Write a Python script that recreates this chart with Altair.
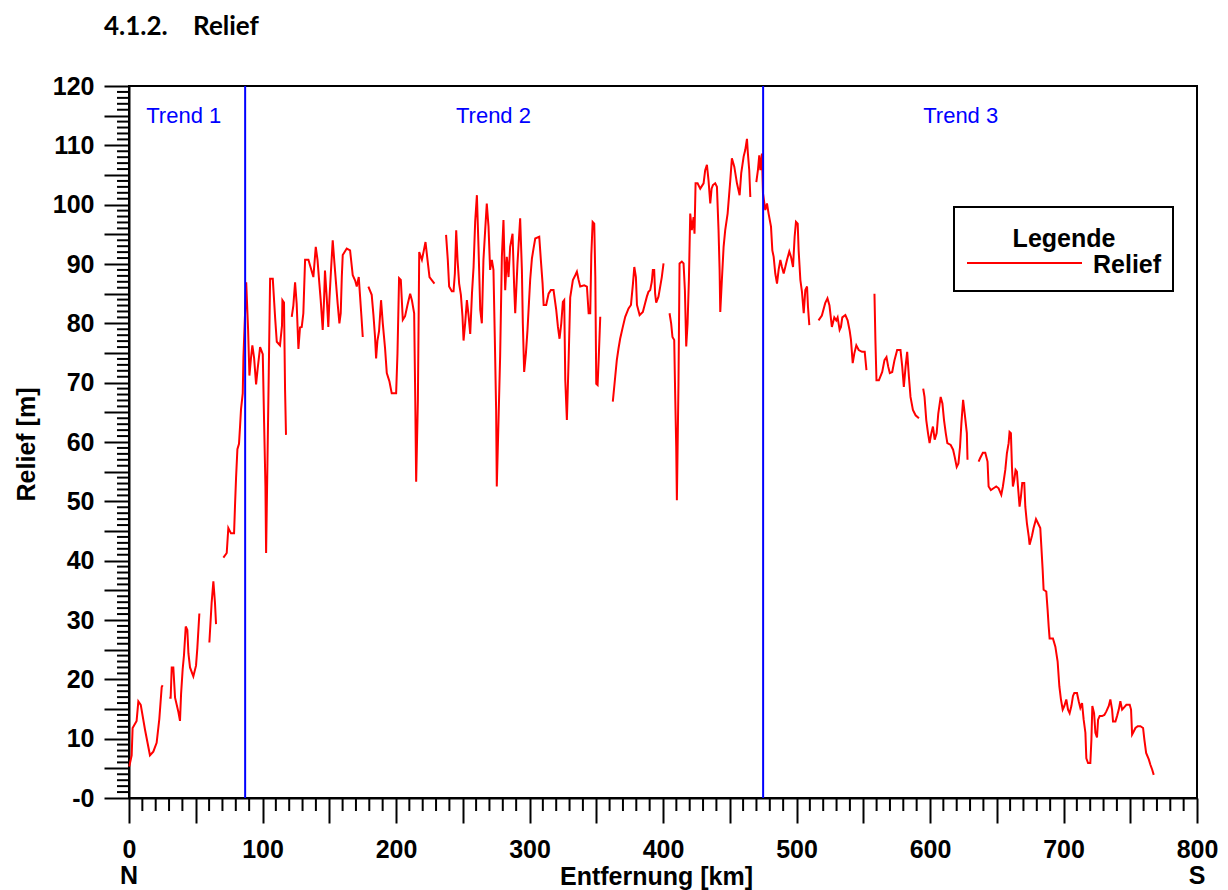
import altair as alt
import pandas as pd

# ---- data (None = gap in the profile) ----
km = [
    0.2, 2.0, 2.7, 5.7, 7.0, 8.8, 12.0, 15.7, 18.2, 20.7, 22.7, 24.5, 25.2, None,
    30.2, 31.2, 32.0, 33.2, 34.5, 37.0, 38.2, 39.0, 40.2, 41.2, 42.5, 43.7, 44.5, 45.7, 48.2, 50.2, 51.2, 52.7, None,
    60.2, 61.9, 63.2, 64.4, 65.2, None,
    70.7, 73.2, 74.4, 76.4, 78.7, 79.4, 80.2, 81.2, 82.4, 83.2, 83.9, 85.2, 85.7, 87.8, 89.2, 90.2, 91.4, 92.4, 93.7,
    95.2, 96.4, 98.2, 100.2, 101.2, 102.2, 102.7, 103.7, 104.7, 105.7, 107.7, 109.5, 110.7, 113.1, 114.6, 114.9,
    116.1, 116.9, 117.6, None,
    121.9, 123.1, 124.4, 125.6, 126.9, 128.1, 129.4, 130.6, 131.9, 134.4, 138.1, 139.9, 141.2, 142.6, 143.6, 145.1,
    146.1, 146.8, 148.1, 149.3, 150.1, 151.3, 152.6, 153.9, 155.1, 156.3, 157.6, 158.6, 159.4, 160.1, 163.1, 165.6,
    167.6, 169.4, 170.6, 172.1, 173.1, 174.1, 175.1, None,
    179.3, 181.8, 183.1, 184.3, 185.1, 186.1, 187.3, 188.8, 190.1, 191.8, 193.1, 195.1, 196.8, 200.1, 201.1, 202.3,
    203.6, 205.1, 206.8, 208.6, 210.6, 211.9, 213.6, 214.4, 215.1, 216.4, 217.4, 219.4, 220.6, 222.1, 223.6, 225.1,
    226.8, 228.8, None,
    237.5, 238.8, 239.8, 241.8, 243.1, 244.1, 245.1, 246.1, 247.3, 248.6, 249.8, 250.6, 251.8, 253.1, 254.4, 255.6,
    256.9, 258.1, 259.3, 260.6, 261.8, 263.1, 264.3, 265.5, 266.8, 268.0, 269.3, 270.5, 271.8, 273.0, 274.0, 275.0,
    275.5, 276.8, 278.0, 279.3, 280.5, 281.8, 283.0, 284.3, 285.5, 287.3, 288.5, 289.3, 291.0, 293.0, 294.3, 295.0,
    296.0, 297.3, 298.5, 300.5, 301.8, 303.0, 304.3, 307.3, 308.5, 309.8, 310.6, 312.5, 314.3, 316.0, 318.0, 320.0,
    321.3, 322.5, 323.8, 325.0, 326.0, 326.8, 328.0, 329.3, 330.5, 332.5, 334.3, 335.5, 336.8, 338.0, 341.0, 343.0,
    344.3, 345.5, 346.3, 347.3, 348.5, 349.3, 350.0, 351.0, 351.8, 353.0, None,
    362.4, 364.2, 365.4, 366.7, 367.9, 369.9, 371.7, 374.2, 376.0, 377.5, 378.5, 379.7, 380.5, 382.5, 384.9, 386.6,
    387.9, 389.1, 390.4, 391.6, 392.4, 393.4, 394.1, 394.9, 396.6, 397.9, 399.1, 400.4, None,
    404.9, 406.1, 407.1, 408.4, 409.1, 409.9, 410.4, 411.6, 412.4, 414.1, 415.4, 416.4, 417.4, 418.4, 419.4, 420.4,
    421.6, 422.9, 423.6, 424.4, 425.9, 427.9, 430.4, 431.6, 432.9, 434.1, 435.4, 436.4, 437.4, 439.1, 440.4, 441.6,
    442.4, 442.9, 444.1, 445.4, 446.6, 448.4, 450.4, 451.6, 453.4, 455.4, 457.4, 458.6, 460.4, 461.6, 462.9, 463.6,
    464.6, 465.4, None,
    469.9, 471.1, 472.1, 472.9, 474.1, 474.9, 476.6, 477.9, 479.1, 480.9, 481.9, 482.9, 484.1, 485.4, 486.6, 487.9,
    489.1, 490.4, 491.6, 492.9, 494.6, 495.9, 497.4, 498.6, 499.6, 500.9, 501.6, 502.9, 504.1, 505.4, 506.6, 507.9,
    508.6, 509.6, None,
    516.5, 519.0, 521.5, 523.2, 524.7, 526.5, 528.3, 529.8, 530.8, 532.3, 533.3, 534.3, 536.6, 538.3, 539.8, 540.8,
    542.1, 543.3, 544.8, 546.6, 549.1, 551.1, 552.4, None,
    558.4, 559.1, 559.9, 561.7, 564.2, 565.9, 567.4, 568.7, 569.9, 571.7, 573.4, 575.4, 577.9, 579.2, 580.4, 581.7,
    582.9, 584.2, 585.4, 587.2, 589.2, 591.7, None,
    594.9, 595.9, 597.2, 598.5, 599.7, 601.0, 602.2, 603.5, 605.0, 606.2, 608.0, 609.3, 610.5, 611.8, 613.0, 615.5,
    617.3, 618.5, 620.0, 621.3, 622.5, 623.5, 624.8, 626.0, 627.6, 628.1, None,
    636.4, 637.6, 639.6, 641.4, 643.1, 643.9, 645.6, 647.6, 649.6, 651.4, 653.4, 654.6, 656.4, 657.6, 658.9, 659.6,
    660.6, 661.4, 662.1, 663.1, 664.1, 665.1, 665.9, 667.1, 668.1, 669.1, 670.6, 671.4, 672.6, 673.9, 674.6, 676.4,
    677.6, 679.4, 680.9, 682.6, 683.4, 684.4, 685.1, 687.1, 688.1, 688.9, 689.6, 692.1, 693.9, 695.6, 696.9, 698.1,
    699.4, 700.6, 702.1, 703.4, 704.6, 705.9, 707.1, 708.1, 710.1, 711.4, 712.6, 713.9, 715.1, 716.4, 717.1, 718.4,
    720.1, 720.9, 721.6, 722.9, 723.9, 725.1, 725.9, 727.1, 728.9, 730.6, 732.1, 733.9, 735.1, 736.4, 737.1, 738.9,
    740.1, 741.4, 742.6, 743.9, 745.1, 747.1, 749.6, 750.6, 751.4, 752.6, 753.9, 755.6, 757.6, 759.6, 760.6, 761.9,
    763.9, 765.1, 766.4, 767.6,
]
relief = [
    5.3, 7.2, 11.8, 13.0, 16.3, 15.7, 11.5, 7.2, 7.8, 9.3, 13.3, 18.7, 19.0, None,
    16.9, 16.9, 22.0, 22.0, 16.9, 14.5, 13.0, 17.5, 21.7, 24.1, 28.9, 28.3, 24.4, 22.0, 20.5, 22.3, 25.3, 31.1, None,
    26.2, 32.9, 36.5, 32.9, 29.3, None,
    40.5, 41.3, 45.5, 44.6, 44.6, 49.2, 54.0, 58.8, 59.7, 62.7, 65.5, 68.2, 74.2, 86.9, 79.0, 71.2, 74.2, 76.3, 74.2,
    69.7, 72.4, 76.0, 74.8, 63.3, 52.5, 41.3, 56.4, 71.8, 87.5, 87.5, 80.8, 76.9, 76.3, 79.6, 83.9,
    83.5, 68.8, 61.2, None,
    81.1, 83.0, 86.9, 83.3, 75.7, 79.3, 79.4, 81.7, 90.7, 90.7, 87.8, 92.9, 90.7, 86.7, 83.9, 78.9,
    83.9, 88.9, 84.4, 79.4, 83.9, 88.9, 94.0, 90.1, 86.7, 83.3, 80.0, 81.7, 87.8, 91.5, 92.6, 92.3,
    88.1, 87.2, 86.2, 87.8, 84.5, 81.2, 77.7, None,
    86.2, 84.8, 81.4, 77.7, 74.1, 77.1, 78.7, 83.9, 80.0, 75.8, 71.6, 70.2, 68.2, 68.2, 74.9, 87.6,
    87.3, 80.6, 81.2, 83.1, 85.0, 83.9, 81.7, 67.6, 53.3, 67.1, 92.0, 90.7, 92.0, 93.7, 90.7, 87.8,
    87.3, 86.7, None,
    94.9, 90.7, 86.2, 85.4, 85.4, 88.4, 95.7, 90.7, 86.7, 84.8, 81.2, 77.1, 80.0, 83.9, 81.2, 78.2,
    85.0, 89.5, 97.1, 101.6, 92.9, 82.3, 80.0, 90.7, 95.7, 100.2, 96.3, 89.0, 90.7, 89.0, 77.7, 65.4,
    52.5, 63.7, 74.4, 91.2, 97.4, 85.6, 91.2, 87.8, 92.9, 95.1, 86.2, 81.7, 90.1, 97.7, 89.0, 80.0,
    71.8, 74.9, 78.9, 87.3, 90.9, 92.6, 94.3, 94.6, 90.7, 86.7, 83.1, 83.1, 85.0, 85.6, 85.6, 82.3,
    79.4, 77.4, 80.0, 83.6, 83.9, 70.4, 63.7, 73.8, 84.4, 87.3, 88.1, 88.7, 87.3, 86.2, 86.4, 86.2,
    81.7, 81.7, 91.5, 97.1, 96.8, 87.8, 69.8, 69.6, 73.8, 81.1, None,
    66.8, 71.0, 73.8, 75.8, 77.4, 79.4, 81.1, 82.5, 83.1, 86.7, 89.5, 87.8, 83.1, 81.4, 81.9, 83.4,
    84.5, 85.3, 85.6, 87.0, 89.0, 89.0, 85.0, 83.5, 84.5, 86.2, 87.8, 90.1, None,
    81.7, 80.0, 77.7, 77.2, 68.2, 59.2, 50.2, 69.9, 90.1, 90.4, 90.1, 85.6, 76.1, 80.0, 87.3, 98.5,
    95.7, 97.9, 95.1, 103.6, 103.6, 102.7, 103.6, 105.8, 106.7, 104.1, 100.2, 102.7, 103.3, 103.6, 103.0, 95.7,
    89.0, 81.9, 87.3, 92.9, 95.7, 98.5, 104.1, 107.8, 106.4, 103.6, 101.6, 105.3, 108.1, 109.2, 111.1, 108.6,
    105.8, 101.3, None,
    103.8, 105.8, 108.3, 105.8, 108.6, 101.9, 99.1, 100.2, 98.5, 96.3, 92.3, 91.2, 88.4, 86.7, 89.0, 90.7,
    89.5, 88.4, 89.5, 90.7, 92.1, 91.2, 89.5, 94.6, 97.1, 96.8, 92.3, 87.3, 85.3, 81.7, 85.6, 86.2,
    82.8, 79.7, None,
    80.5, 81.3, 83.4, 84.2, 83.0, 79.4, 81.0, 80.5, 81.0, 78.9, 79.4, 81.0, 81.4, 80.5, 78.8, 77.2,
    73.3, 74.9, 76.3, 75.5, 75.2, 75.2, 72.1, None,
    85.0, 77.2, 70.4, 70.4, 71.8, 73.8, 74.3, 72.7, 71.6, 71.8, 73.8, 75.5, 75.5, 72.7, 69.3, 72.7,
    75.2, 71.0, 67.6, 65.4, 64.5, 64.0, None,
    69.0, 67.6, 63.7, 61.5, 59.8, 61.5, 62.6, 60.4, 61.5, 64.8, 67.6, 66.5, 63.7, 61.5, 59.8, 59.5,
    58.7, 57.5, 55.8, 56.4, 59.2, 63.1, 67.1, 64.8, 61.5, 57.0, None,
    56.7, 57.3, 58.2, 58.2, 56.7, 52.5, 51.9, 52.2, 52.5, 52.2, 51.1, 52.5, 55.3, 58.1, 59.8, 61.7,
    61.5, 55.8, 52.5, 53.6, 55.3, 55.0, 52.5, 49.1, 50.8, 53.1, 53.1, 49.1, 46.3, 44.2, 42.7, 44.2,
    45.5, 47.0, 46.3, 45.5, 42.4, 38.4, 35.1, 34.8, 31.7, 28.9, 26.9, 26.9, 25.5, 23.0, 18.8, 16.6,
    14.9, 15.5, 16.6, 14.9, 14.3, 15.5, 17.2, 17.7, 17.7, 16.3, 15.2, 16.0, 13.2, 11.0, 6.7, 5.9,
    5.9, 9.8, 15.5, 14.3, 11.0, 10.2, 13.2, 13.8, 13.8, 14.0, 14.6, 15.5, 16.6, 14.9, 12.9, 12.9,
    13.8, 14.9, 16.3, 14.9, 15.2, 15.7, 15.7, 14.9, 10.7, 11.2, 11.8, 12.1, 12.1, 11.8, 9.8, 7.6,
    6.5, 5.6, 4.8, 3.9,
]

trend_lines = [87, 475]
trend_text_x = [41, 273, 623]
trend_text = ["Trend 1", "Trend 2", "Trend 3"]
trend_text_y = [115, 115, 115]
x_ticks = list(range(0, 801, 50))
x_minor = [v for v in range(0, 801, 10) if v % 50]
y_ticks = list(range(0, 121, 5))
y_minor = [v for v in range(0, 121) if v % 5]
ends_x = [0, 800]
ends_text = ["N", "S"]
legend_title = "Legende"
legend_label = "Relief"

# ---- build tables ----
rows, seg = [], 0
for k, r in zip(km, relief):
    if k is None or r is None:
        seg += 1
        continue
    rows.append({"km": k, "relief": r, "seg": seg})
df = pd.DataFrame(rows)

W, H = 1068, 712
FONT = "Liberation Sans"
xs = alt.Scale(domain=[0, 800], nice=False, zero=False)
ys = alt.Scale(domain=[0, 120], nice=False)

x_axis = alt.Axis(
    values=x_ticks, tickSize=25, tickWidth=2, tickColor="black",
    domainColor="black", domainWidth=2, grid=False,
    labelExpr="datum.value % 100 === 0 ? datum.label : ''",
    labelFont=FONT, labelFontSize=25, labelFontWeight="bold", labelColor="black",
    labelPadding=14, labelFlush=False, labelOverlap=False,
    title="Entfernung [km]", titleFont=FONT, titleFontSize=25, titleFontWeight="bold",
    titleColor="black", titleX=527, titleY=86, titleBaseline="alphabetic", titleAlign="center",
)
y_axis = alt.Axis(
    values=y_ticks, tickSize=25, tickWidth=2, tickColor="black",
    domainColor="black", domainWidth=2, grid=False,
    labelExpr="datum.value % 10 === 0 ? (datum.value === 0 ? '-0' : datum.label) : ''",
    labelFont=FONT, labelFontSize=25, labelFontWeight="bold", labelColor="black",
    labelPadding=10, labelFlush=False, labelOverlap=False,
    title="Relief [m]", titleFont=FONT, titleFontSize=25, titleFontWeight="bold",
    titleColor="black", titleX=-95, titleY=358, titleAngle=-90,
    titleBaseline="alphabetic", titleAlign="center",
)

def X(field):
    return alt.X(field, scale=xs, axis=x_axis)

def Y(field):
    return alt.Y(field, scale=ys, axis=y_axis)

line = alt.Chart(df).mark_line(strokeWidth=2, color="#ff0000").encode(
    x=X("km:Q"), y=Y("relief:Q"), detail="seg:N",
)

rules = alt.Chart(pd.DataFrame({"x": trend_lines})).mark_rule(
    color="#0000ff", strokeWidth=2
).encode(x=X("x:Q"))

labels = alt.Chart(pd.DataFrame({"x": trend_text_x, "y": trend_text_y, "t": trend_text})).mark_text(
    color="#0000ff", font=FONT, fontSize=22, align="center", baseline="middle"
).encode(x=X("x:Q"), y=Y("y:Q"), text="t:N")

xmin = alt.Chart(pd.DataFrame({"v": x_minor})).mark_rule(color="black", strokeWidth=2).encode(
    x=X("v:Q"), y=alt.value(H), y2=alt.value(H + 13)
)
ymin = alt.Chart(pd.DataFrame({"v": y_minor})).mark_rule(color="black", strokeWidth=2).encode(
    y=Y("v:Q"), x=alt.value(-12), x2=alt.value(0)
)

ends = alt.Chart(pd.DataFrame({"x": ends_x, "t": ends_text})).mark_text(
    font=FONT, fontSize=25, fontWeight="bold", color="black", align="center", baseline="alphabetic"
).encode(x=X("x:Q"), y=alt.value(H + 86), text="t:N")

# ---- legend box (drawn as a decoration) ----
leg_df = pd.DataFrame({"title": [legend_title], "label": [legend_label]})
leg_box = alt.Chart(leg_df).mark_rect(fill="white", stroke="black", strokeWidth=2).encode(
    x=alt.value(825), x2=alt.value(1044), y=alt.value(121), y2=alt.value(205)
)
leg_title = alt.Chart(leg_df).mark_text(
    font=FONT, fontSize=25, fontWeight="bold", color="black", align="center", baseline="alphabetic"
).encode(x=alt.value(935), y=alt.value(161), text="title:N")
leg_line = alt.Chart(leg_df).mark_rule(color="#ff0000", strokeWidth=2).encode(
    x=alt.value(838), x2=alt.value(953), y=alt.value(177)
)
leg_label = alt.Chart(leg_df).mark_text(
    font=FONT, fontSize=25, fontWeight="bold", color="black", align="left", baseline="alphabetic"
).encode(x=alt.value(964), y=alt.value(187), text="label:N")

chart = alt.layer(
    line, rules, labels, xmin, ymin, ends, leg_box, leg_title, leg_line, leg_label
).properties(
    width=W, height=H,
    autosize=alt.AutoSizeParams(type="none"),
    padding={"left": 121, "top": 78, "right": 23, "bottom": 92},
    title=alt.TitleParams(
        text="4.1.2.\u00a0\u00a0\u00a0\u00a0Relief", font="Lato", fontSize=26, fontWeight="bold",
        color="black", anchor="start", frame="group", dx=-25, offset=34,
    ),
).configure_view(stroke="black", strokeWidth=2)

chart.save("out.html", embed_options={"renderer": "svg", "actions": False})
